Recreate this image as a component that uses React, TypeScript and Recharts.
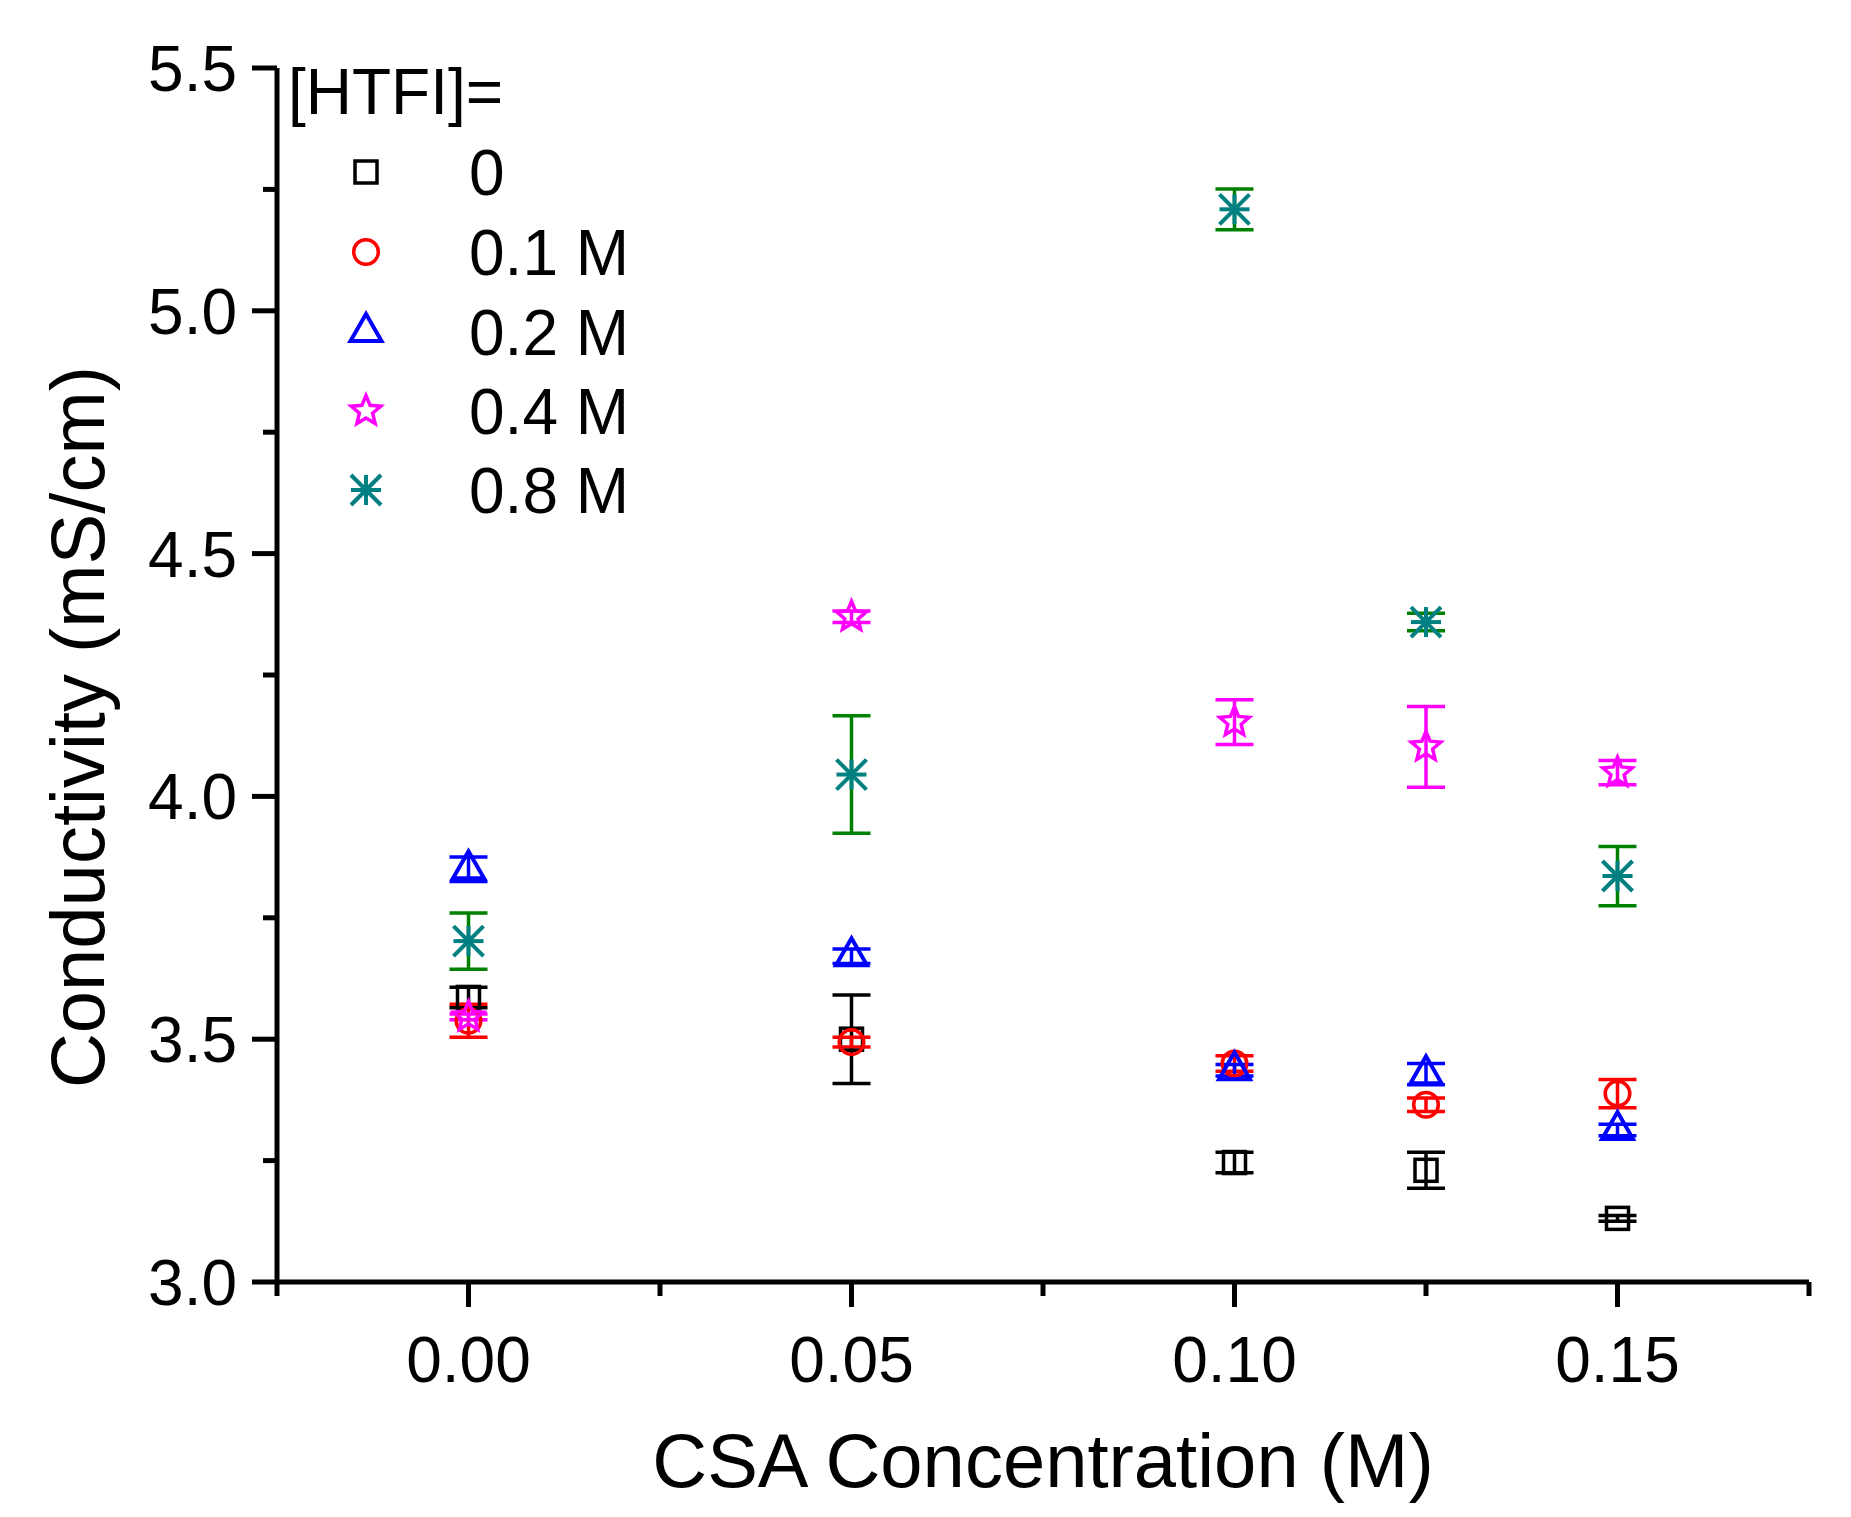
import React from 'react';
import { ScatterChart, Scatter, XAxis, YAxis, ErrorBar } from 'recharts';

// CSA concentration (M) on the x axis
const csa = [0, 0.05, 0.1, 0.125, 0.15];

// conductivity (mS/cm) per HTFI concentration, with error bars
const htfi0 = [3.586, 3.5, 3.246, 3.23, 3.131];
const htfi0Err = [0.021, 0.091, 0.021, 0.037, 0.006];
const htfi01 = [3.538, 3.494, 3.45, 3.365, 3.388];
const htfi01Err = [0.034, 0.01, 0.016, 0.014, 0.029];
const htfi02 = [3.85, 3.671, 3.436, 3.428, 3.313];
const htfi02Err = [0.025, 0.015, 0.012, 0.022, 0.012];
const htfi04 = [3.546, 4.37, 4.153, 4.102, 4.049];
const htfi04Err = [0.006, 0.012, 0.046, 0.083, 0.025];
const htfi08 = [3.702, 4.045, 5.209, 4.359, 3.836];
const htfi08Err = [0.058, 0.121, 0.042, 0.018, 0.061];

const seriesNames = ['0', '0.1 M', '0.2 M', '0.4 M', '0.8 M'];

const xTicks = [-0.025, 0, 0.025, 0.05, 0.075, 0.1, 0.125, 0.15, 0.175];
const yTicks = [3, 3.25, 3.5, 3.75, 4, 4.25, 4.5, 4.75, 5, 5.25, 5.5];

const FONT = '"Liberation Sans", Arial, Helvetica, sans-serif';
const AXIS_W = 5;

type Sym = 'square' | 'circle' | 'triangle' | 'star' | 'asterisk';

const drawSymbol = (kind: Sym, cx: number, cy: number, color: string) => {
  const sw = 3.5;
  if (kind === 'square') {
    return <rect x={cx - 11} y={cy - 11} width={22} height={22} fill="none" stroke={color} strokeWidth={sw} />;
  }
  if (kind === 'circle') {
    return <circle cx={cx} cy={cy} r={12.3} fill="none" stroke={color} strokeWidth={sw} />;
  }
  if (kind === 'triangle') {
    const pts = `${cx},${cy - 18} ${cx + 15.5},${cy + 9} ${cx - 15.5},${cy + 9}`;
    return <polygon points={pts} fill="none" stroke={color} strokeWidth={sw + 0.5} />;
  }
  if (kind === 'star') {
    const pts: string[] = [];
    for (let i = 0; i < 10; i++) {
      const r = i % 2 === 0 ? 15.5 : 7;
      const a = -Math.PI / 2 + (i * Math.PI) / 5;
      pts.push(`${cx + r * Math.cos(a)},${cy + r * Math.sin(a)}`);
    }
    return <polygon points={pts.join(' ')} fill="none" stroke={color} strokeWidth={sw} />;
  }
  const d = 15;
  return (
    <g stroke={color} strokeWidth={sw + 0.5}>
      <line x1={cx - d} y1={cy} x2={cx + d} y2={cy} />
      <line x1={cx} y1={cy - d} x2={cx} y2={cy + d} />
      <line x1={cx - d} y1={cy - d} x2={cx + d} y2={cy + d} />
      <line x1={cx - d} y1={cy + d} x2={cx + d} y2={cy - d} />
    </g>
  );
};

const series = [
  { name: seriesNames[0], values: htfi0, errs: htfi0Err, sym: 'square' as Sym, color: '#000000', errColor: '#000000' },
  { name: seriesNames[1], values: htfi01, errs: htfi01Err, sym: 'circle' as Sym, color: '#FF0000', errColor: '#FF0000' },
  { name: seriesNames[2], values: htfi02, errs: htfi02Err, sym: 'triangle' as Sym, color: '#0000FF', errColor: '#0000FF' },
  { name: seriesNames[3], values: htfi04, errs: htfi04Err, sym: 'star' as Sym, color: '#FF00FF', errColor: '#FF00FF' },
  { name: seriesNames[4], values: htfi08, errs: htfi08Err, sym: 'asterisk' as Sym, color: '#008080', errColor: '#008000' },
];

const isMajor = (v: number, step: number) => Math.abs(Math.round(v / step) * step - v) < 1e-9;

const XTick = (props: any) => {
  const { x, y, payload } = props;
  const v = payload.value as number;
  const major = isMajor(v, 0.05);
  return (
    <g>
      <line x1={x} y1={y} x2={x} y2={y + (major ? 25 : 14)} stroke="#000" strokeWidth={AXIS_W} />
      {major && (
        <text x={x} y={y + 100} textAnchor="middle" fontFamily={FONT} fontSize={64} fill="#000">
          {v.toFixed(2)}
        </text>
      )}
    </g>
  );
};

const YTick = (props: any) => {
  const { x, y, payload } = props;
  const v = payload.value as number;
  const major = isMajor(v, 0.5);
  return (
    <g>
      <line x1={x} y1={y} x2={x - (major ? 25 : 14)} y2={y} stroke="#000" strokeWidth={AXIS_W} />
      {major && (
        <text x={x - 40} y={y + 23} textAnchor="end" fontFamily={FONT} fontSize={64} fill="#000">
          {v.toFixed(1)}
        </text>
      )}
    </g>
  );
};

export default function App() {
  const legendRows = [172, 252, 332, 411, 490];
  return (
    <div style={{ position: 'absolute', left: 0, top: 0, width: 1851, height: 1517, background: '#fff' }}>
      <ScatterChart width={1851} height={1517} margin={{ top: 68, right: 42, bottom: 135, left: 177 }}>
        <XAxis
          type="number"
          dataKey="x"
          domain={[-0.025, 0.175]}
          ticks={xTicks}
          interval={0}
          allowDataOverflow
          height={100}
          tickSize={0}
          tickMargin={0}
          tickLine={false}
          axisLine={{ stroke: '#000', strokeWidth: AXIS_W }}
          tick={<XTick />}
        />
        <YAxis
          type="number"
          dataKey="y"
          domain={[3, 5.5]}
          ticks={yTicks}
          interval={0}
          allowDataOverflow
          width={100}
          tickSize={0}
          tickMargin={0}
          tickLine={false}
          axisLine={{ stroke: '#000', strokeWidth: AXIS_W }}
          tick={<YTick />}
        />
        {series.map((s) => (
          <Scatter
            key={s.name}
            name={s.name}
            data={csa.map((x, i) => ({ x, y: s.values[i], err: s.errs[i] }))}
            isAnimationActive={false}
            shape={(p: any) => drawSymbol(s.sym, p.cx, p.cy, s.color)}
          >
            <ErrorBar dataKey="err" direction="y" width={19} stroke={s.errColor} strokeWidth={3.5} isAnimationActive={false} />
          </Scatter>
        ))}
      </ScatterChart>
      <svg
        width={1851}
        height={1517}
        style={{ position: 'absolute', left: 0, top: 0, pointerEvents: 'none' }}
      >
        <text x={288} y={114} fontFamily={FONT} fontSize={64} fill="#000">
          [HTFI]=
        </text>
        {series.map((s, i) => (
          <g key={s.name}>
            {drawSymbol(s.sym, 366, legendRows[i], s.color)}
            <text x={469} y={legendRows[i] + 23} fontFamily={FONT} fontSize={64} fill="#000">
              {s.name}
            </text>
          </g>
        ))}
        <text x={1043} y={1487} textAnchor="middle" fontFamily={FONT} fontSize={76} fill="#000">
          CSA Concentration (M)
        </text>
        <text
          x={104}
          y={727}
          textAnchor="middle"
          fontFamily={FONT}
          fontSize={76}
          fill="#000"
          transform="rotate(-90 104 727)"
        >
          Conductivity (mS/cm)
        </text>
      </svg>
    </div>
  );
}
